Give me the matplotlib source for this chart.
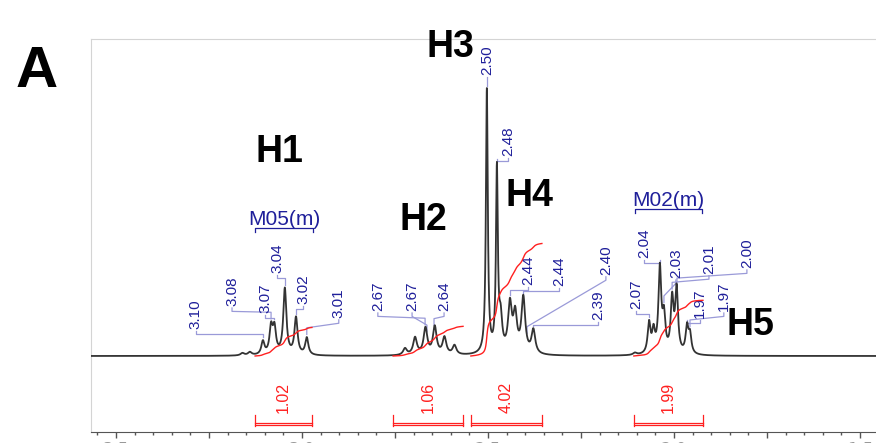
import numpy as np
import matplotlib
matplotlib.use('Agg')
import matplotlib.pyplot as plt
from matplotlib.ticker import MultipleLocator, FuncFormatter

# peak list: shift (ppm), height (rel.), half width (ppm)
peak_ppm = [3.160, 3.140, 3.105, 3.083, 3.074, 3.046, 3.016, 2.987,
            2.723, 2.696, 2.668, 2.643, 2.617, 2.590,
            2.503, 2.476, 2.466, 2.441, 2.427, 2.405, 2.378,
            2.105, 2.067, 2.055, 2.038, 2.027, 2.005, 1.993, 1.965, 1.957]
peak_height = [0.9, 1.2, 5.0, 10.0, 9.5, 25.0, 14.0, 6.5,
               2.5, 6.5, 10.0, 10.5, 6.5, 3.5,
               100.0, 69.0, 12.0, 18.0, 14.0, 21.0, 9.0,
               0.8, 11.5, 8.0, 32.0, 13.0, 20.0, 24.0, 10.0, 7.0]
peak_width = [0.006, 0.006, 0.005, 0.005, 0.005, 0.005, 0.005, 0.005,
              0.006, 0.006, 0.006, 0.006, 0.006, 0.006,
              0.003, 0.003, 0.005, 0.006, 0.006, 0.006, 0.006,
              0.006, 0.0045, 0.0045, 0.0045, 0.0045, 0.0045, 0.0045, 0.0045, 0.0045]

# integrals
integral_lo = [2.973, 2.567, 2.355, 1.922]
integral_hi = [3.126, 2.755, 2.546, 2.108]
integral_values = [1.02, 1.06, 4.02, 1.99]

# peak picking labels
peak_labels = ['3.10', '3.08', '3.07', '3.04', '3.02', '3.01',
               '2.67', '2.67', '2.64',
               '2.50', '2.48', '2.44', '2.44', '2.40', '2.39',
               '2.07', '2.04', '2.03', '2.01', '2.00', '1.97', '1.97']
label_peak = [3.105, 3.083, 3.075, 3.046, 3.016, 2.987,
              2.669, 2.664, 2.645,
              2.503, 2.476, 2.441, 2.406, 2.395, 2.379,
              2.067, 2.038, 2.027, 2.005, 1.992, 1.965, 1.957]
# where each rotated label sits (ppm, height of its bottom)
label_x = [3.285, 3.188, 3.099, 3.067, 2.997, 2.901,
           2.796, 2.704, 2.618,
           2.503, 2.446, 2.392, 2.309, 2.183, 2.204,
           2.102, 2.081, 1.995, 1.906, 1.804, 1.930, 1.866]
label_y = [10.2, 18.9, 16.3, 31.4, 19.7, 14.4,
           17.0, 17.0, 17.0,
           106.4, 75.8, 26.9, 26.5, 30.7, 13.6,
           17.8, 37.1, 29.5, 31.1, 33.3, 14.4, 17.0]

# multiplet labels
mult_names = ['M05(m)', 'M02(m)']
mult_lo = [2.970, 1.925]
mult_hi = [3.126, 2.105]
mult_y = [49.5, 56.8]

# proton assignments
h_names = ['H1', 'H2', 'H3', 'H4', 'H5']
h_x = [3.126, 2.737, 2.664, 2.454, 1.858]
h_y = [73.5, 47.7, 113.3, 56.8, 8.0]

xs = np.linspace(3.6, 1.4, 12000)
spec = np.zeros_like(xs)
for p, h, w in zip(peak_ppm, peak_height, peak_width):
    spec += h * w**2 / ((xs - p)**2 + w**2)

fig = plt.figure(figsize=(8.76, 4.43), dpi=100)
ax = fig.add_axes([91/876, 11/443, 785/876, 393/443])

ax.plot(xs, spec, color='#333333', lw=1.3, zorder=3)

# integral curves + brackets
scale = 10.6
for lo, hi, val in zip(integral_lo, integral_hi, integral_values):
    m = (xs <= hi) & (xs >= lo)
    cum = np.cumsum(spec[m])
    cum = cum / cum[-1] * val * scale
    ax.plot(xs[m], cum, color='#ff2020', lw=1.0, zorder=4)
    for yy in (-26.1, -25.3):
        ax.plot([hi, lo], [yy, yy], color='#ff2020', lw=0.9)
    ax.plot([hi, hi], [-22.3, -26.4], color='#ff2020', lw=0.9)
    ax.plot([lo, lo], [-22.3, -26.4], color='#ff2020', lw=0.9)
    ax.text((lo + hi) / 2, -21.6, f'{val:.2f}', rotation=90, ha='center', va='bottom',
            color='#ff2020', fontsize=11.5, family='Liberation Sans')

# peak labels with connectors
lab_col = '#1f1f9a'
con_col = '#9a9ad8'
for txt, pk, lx, ly in zip(peak_labels, label_peak, label_x, label_y):
    tip = np.interp(pk, xs[::-1], spec[::-1]) + 1.0
    knee = min(tip + 2.5, ly - 2.0)
    ax.plot([lx, lx, pk, pk], [ly - 0.7, ly - 2.0, knee, tip], color=con_col, lw=0.9, zorder=2)
    ax.text(lx, ly, txt, rotation=90, ha='center', va='bottom', color=lab_col,
            fontsize=11, family='Liberation Sans')

for name, lo, hi, yy in zip(mult_names, mult_lo, mult_hi, mult_y):
    ax.text((lo + hi) / 2, yy, name, ha='center', va='baseline', color=lab_col,
            fontsize=15, family='Liberation Sans')
    ax.plot([hi, hi, lo, lo], [yy - 2.6, yy - 1.2, yy - 1.2, yy - 2.6], color=lab_col, lw=0.9)

for name, x, y in zip(h_names, h_x, h_y):
    ax.text(x, y, name, ha='left', va='baseline', fontsize=27, fontweight='bold',
            family='Liberation Sans', color='black', zorder=6, clip_on=False)

fig.text(16/876, (443-87)/443, 'A', ha='left', va='baseline', fontsize=42,
         fontweight='bold', family='Liberation Sans')

ax.set_xlim(3.567, 1.457)
ax.set_ylim(-28.79, 120.08)
ax.xaxis.set_major_locator(MultipleLocator(0.25))
ax.xaxis.set_minor_locator(MultipleLocator(0.05))
ax.xaxis.set_major_formatter(FuncFormatter(
    lambda v, pos: f'{v:.1f}' if abs(v * 2 - round(v * 2)) < 1e-6 else ''))
ax.set_yticks([])
ax.tick_params(axis='x', which='major', length=4.5, width=1, color='#555555',
               labelcolor='#999999', labelsize=12, pad=2)
ax.tick_params(axis='x', which='minor', length=2.5, width=1, color='#555555')
ax.spines['top'].set_color('#d4d4d4')
ax.spines['left'].set_color('#d4d4d4')
ax.spines['right'].set_visible(False)
ax.spines['bottom'].set_color('#555555')

fig.savefig('out.png', dpi=100)
